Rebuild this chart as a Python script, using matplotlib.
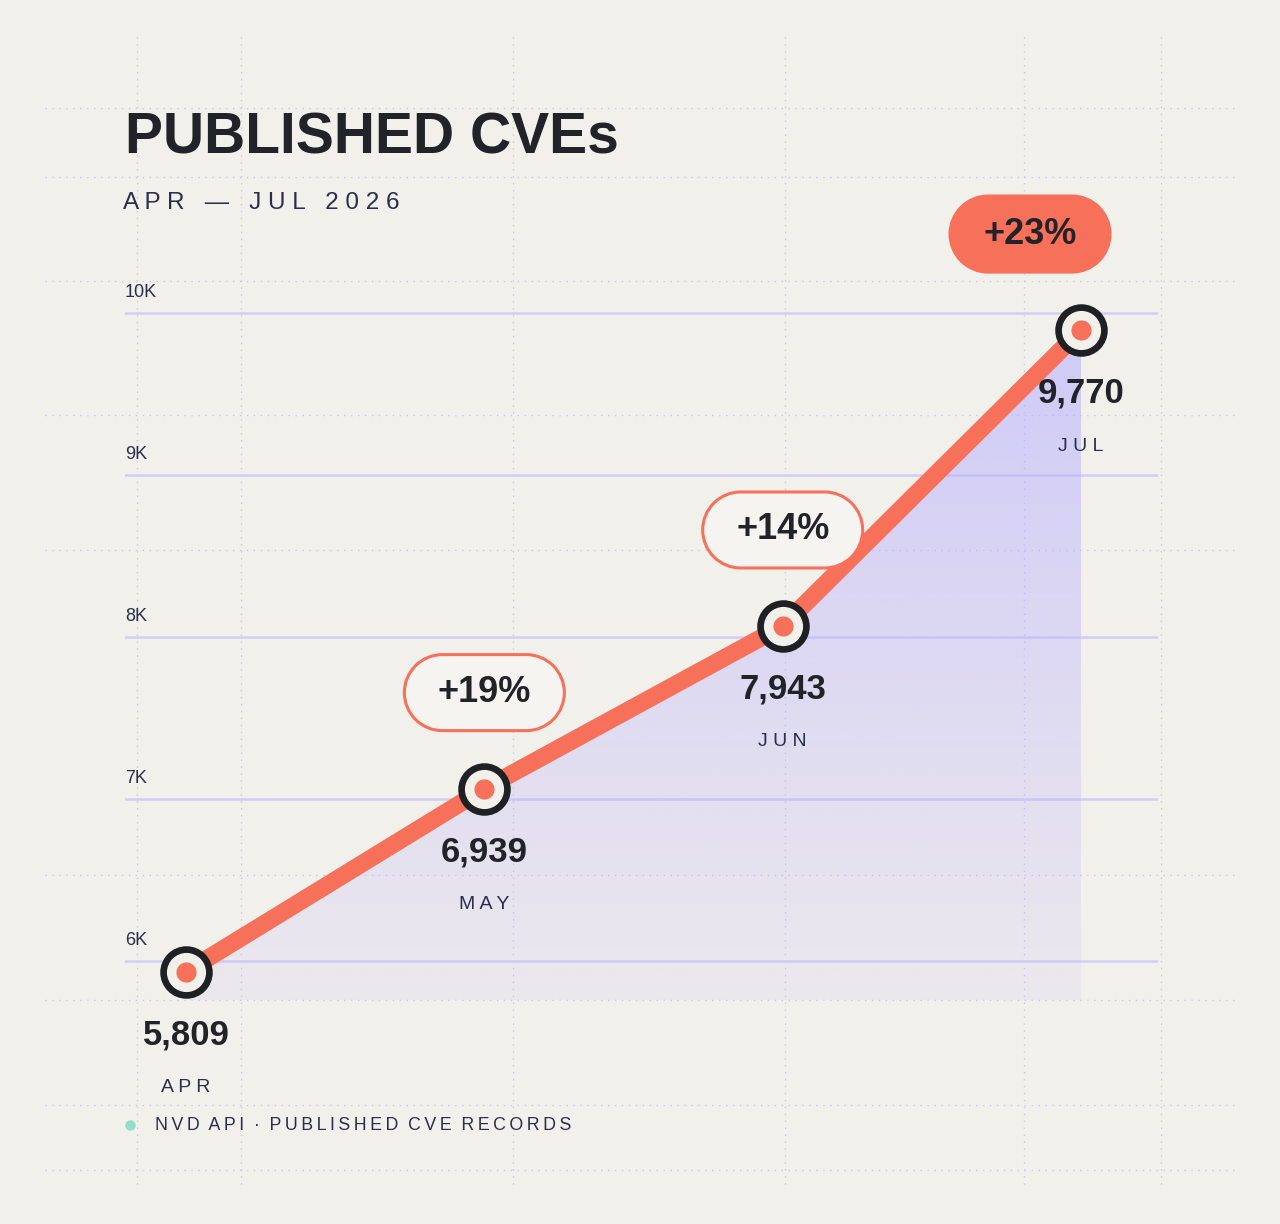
import numpy as np
import matplotlib.pyplot as plt
from matplotlib.patches import PathPatch
from matplotlib.path import Path
from matplotlib.transforms import IdentityTransform

# data
months = ["APR", "MAY", "JUN", "JUL"]
cves = [5809, 6939, 7943, 9770]
growth = ["+19%", "+14%", "+23%"]       # month over month, from MAY on
y_ticks = [6000, 7000, 8000, 9000, 10000]
y_tick_labels = ["6K", "7K", "8K", "9K", "10K"]

BG = "#f2f0eb"
ORANGE = "#f7705a"
INK = "#222329"
NAVY = "#2b2e4a"
LAV = "#b8b0ff"
GRID = "#d2cdf7"

plt.rcParams['font.family'] = ['Liberation Sans', 'DejaVu Sans']

W, H = 1280, 1224
fig = plt.figure(figsize=(W / 100, H / 100), dpi=100, facecolor=BG)

def spaced(s, sep=" "):
    # letter spacing: spread letters, widen the word gaps
    return "   ".join(sep.join(w) for w in s.split(" "))

def pill(cx, cy, w, h):
    # stadium shape in pixels
    r = h / 2
    right = Path.arc(-90, 90)
    left = Path.arc(90, 270)
    rv = right.vertices * r + [cx + w / 2 - r, cy]
    lv = left.vertices * r + [cx - w / 2 + r, cy]
    verts = np.concatenate([rv, lv, rv[:1]])
    codes = np.concatenate([right.codes, [Path.LINETO] + list(left.codes[1:]), [Path.CLOSEPOLY]])
    return Path(verts, codes)

# faint blueprint lines in the background
for xv in [137, 241, 513, 785, 1024, 1161]:
    fig.add_artist(plt.Line2D([xv / W, xv / W], [40 / H, 1190 / H], color="#cac4f7",
                              lw=1, ls=(0, (1, 4)), zorder=0))
for yv in [108, 177, 281, 415, 550, 875, 1000, 1105, 1170]:
    fig.add_artist(plt.Line2D([45 / W, 1235 / W], [1 - yv / H, 1 - yv / H], color="#cac4f7",
                              lw=1, ls=(0, (1, 4)), zorder=0))

ax = fig.add_axes([125 / W, 224 / H, 1033 / W, 720 / H])
ax.set_facecolor("none")
x = np.arange(len(months))
XL, YL = (-0.2045, 3.258), (5634, 10079)
ax.set_xlim(*XL)
ax.set_ylim(*YL)
for s in ax.spines.values():
    s.set_visible(False)
ax.set_xticks([])
ax.set_yticks([])

# grid lines (sit a little under their labels, as in the source)
for v, lab in zip(y_ticks, y_tick_labels):
    ax.axhline(v - 123, color=GRID, lw=1.8, zorder=1)
    ax.text(0, v, lab, transform=ax.get_yaxis_transform(), ha="left", va="center",
            fontsize=13, color=NAVY, zorder=2)

# gradient area under the line
fill = ax.fill_between(x, cves, YL[0], color="none", lw=0)
grad = np.zeros((256, 1, 4))
grad[..., :3] = plt.matplotlib.colors.to_rgb(LAV)
grad[:, 0, 3] = np.linspace(0.62, 0.12, 256)
img = ax.imshow(grad, extent=[x[0], x[-1], YL[0], 10000], aspect="auto",
                origin="upper", zorder=1.5)
img.set_clip_path(fill.get_paths()[0], transform=ax.transData)
ax.set_xlim(*XL)
ax.set_ylim(*YL)

ax.plot(x, cves, color=ORANGE, lw=12.5, solid_capstyle="round", zorder=3)
ax.plot(x, cves, ls="none", marker="o", ms=33, mfc=BG, mec="#1f2024", mew=4.8, zorder=4)
ax.plot(x, cves, ls="none", marker="o", ms=14.5, mfc=ORANGE, mec="none", zorder=5)

for i, (m, v) in enumerate(zip(months, cves)):
    ax.annotate(f"{v:,}", (x[i], v), xytext=(0, -63), textcoords="offset pixels",
                ha="center", va="center", fontsize=25, fontweight="bold", color=INK, zorder=6)
    ax.annotate(spaced(m), (x[i], v), xytext=(0, -116), textcoords="offset pixels",
                ha="center", va="center", fontsize=14, color=NAVY, zorder=6)

# growth badges
badge_dx = [0, 0, -51]
for j, g in enumerate(growth):
    i = j + 1
    px, py = ax.transData.transform((x[i], cves[i]))
    cx, cy = px + badge_dx[j], py + 96
    last = j == len(growth) - 1
    box = PathPatch(pill(cx, cy, 160, 76), transform=IdentityTransform(),
                    fc=ORANGE if last else "#f6f4f0", ec=ORANGE, lw=2.2, zorder=7)
    fig.add_artist(box)
    fig.text(cx / W, cy / H, g, ha="center", va="center", fontsize=26,
             fontweight="bold", color=INK, zorder=8)

# titles
fig.text(125 / W, 1 - 153 / H, "PUBLISHED CVEs", fontsize=41, fontweight="bold",
         color=INK, va="baseline", ha="left")
fig.text(123 / W, 1 - 209 / H, spaced("APR — JUL 2026"), fontsize=17.5,
         color=NAVY, va="baseline", ha="left")

# footer
fig.add_artist(plt.Line2D([130 / W], [1 - 1125 / H], marker="o", ms=7.5,
                          color="#93dccb", mec="none"))
fig.text(155 / W, 1 - 1125 / H,
         "N\u2009V\u2009D  A\u2009P\u2009I  ·  P\u2009U\u2009B\u2009L\u2009I\u2009S\u2009H\u2009E\u2009D  C\u2009V\u2009E  R\u2009E\u2009C\u2009O\u2009R\u2009D\u2009S",
         fontsize=12.8, color=NAVY, va="center", ha="left")

fig.savefig("out.png", dpi=100, facecolor=BG)
